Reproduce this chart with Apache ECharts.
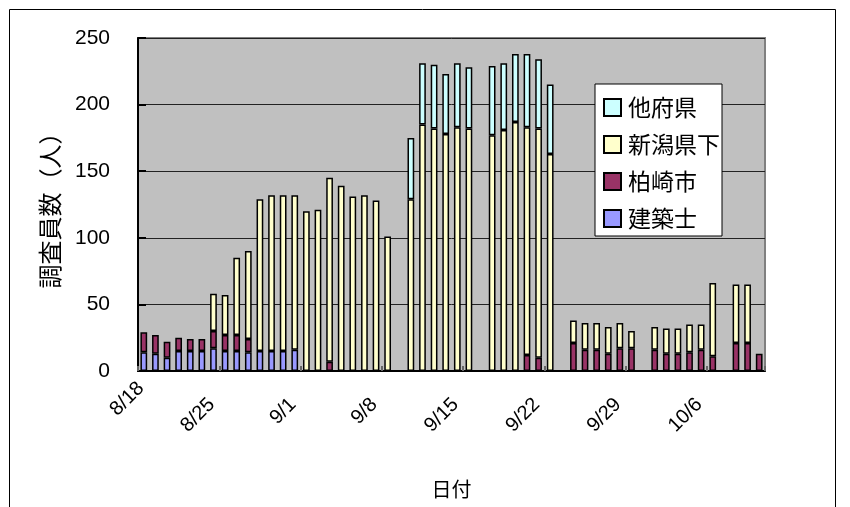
<!DOCTYPE html>
<html>
<head>
<meta charset="utf-8">
<script src="https://cdn.jsdelivr.net/npm/echarts@6/dist/echarts.min.js"></script>
<style>
  html, body { margin: 0; padding: 0; background: #fff; }
  #chart { width: 850px; height: 507px; }
</style>
</head>
<body>
<div id="chart"></div>
<script>
// Daily survey staff counts, 8/18 – 10/10
const dates = [
  '8/18','8/19','8/20','8/21','8/22','8/23','8/24',
  '8/25','8/26','8/27','8/28','8/29','8/30','8/31',
  '9/1','9/2','9/3','9/4','9/5','9/6','9/7',
  '9/8','9/9','9/10','9/11','9/12','9/13','9/14',
  '9/15','9/16','9/17','9/18','9/19','9/20','9/21',
  '9/22','9/23','9/24','9/25','9/26','9/27','9/28',
  '9/29','9/30','10/1','10/2','10/3','10/4','10/5',
  '10/6','10/7','10/8','10/9','10/10'
];

// 建築士
const architects = [
  14,13,10,15,15,15,17, 15,15,14,15,15,15,16,
  0,0,0,0,0,0,0, 0,0,0,0,0,0,0,
  0,0,0,0,0,0,0, 0,0,0,0,0,0,0,
  0,0,0,0,0,0,0, 0,0,0,0,0
];
// 柏崎市
const kashiwazaki = [
  15,14,12,10,9,9,13, 12,12,10,0,0,0,0,
  0,0,7,0,0,0,0, 0,0,0,0,0,0,0,
  0,0,0,0,0,12,10, 0,0,21,16,16,13,17,
  17,0,16,13,13,14,16, 11,0,21,21,13
];
// 新潟県下
const niigata = [
  0,0,0,0,0,0,28, 30,58,66,114,117,117,116,
  120,121,138,139,131,132,128, 101,0,129,185,182,178,183,
  182,0,177,181,187,171,172, 163,0,17,20,20,20,19,
  13,0,17,19,19,21,19, 55,0,44,44,0
];
// 他府県
const otherPrefs = [
  0,0,0,0,0,0,0, 0,0,0,0,0,0,0,
  0,0,0,0,0,0,0, 0,0,46,46,48,45,48,
  46,0,52,50,51,55,52, 52,0,0,0,0,0,0,
  0,0,0,0,0,0,0, 0,0,0,0,0
];

const yTicks = [0, 50, 100, 150, 200, 250];

const FONT = "'Liberation Sans', 'Noto Sans CJK JP', sans-serif";
const CJK = "'Noto Sans CJK JP', sans-serif";

// zero segments are left empty so they draw no outline
const seg = arr => arr.map(v => (v === 0 ? '-' : v));

function barSeries(name, data, color) {
  return {
    name: name,
    type: 'bar',
    stack: 'total',
    barWidth: '58%',
    data: seg(data),
    itemStyle: { color: color, borderColor: '#000', borderWidth: 1.5 },
    emphasis: { disabled: true }
  };
}

const dateLabel = { fontFamily: FONT, fontSize: 20, color: '#000' };

const chart = echarts.init(document.getElementById('chart'), null, { renderer: 'canvas' });

chart.setOption({
  animation: false,
  backgroundColor: '#fff',
  textStyle: { fontFamily: FONT },
  graphic: [{
    type: 'rect',
    shape: { x: 9.5, y: 9.5, width: 826, height: 520 },
    style: { fill: 'none', stroke: '#000', lineWidth: 1 },
    silent: true
  }],
  grid: {
    left: 138, right: 85, top: 38, bottom: 136,
    outerBoundsMode: 'none',
    containLabel: false,
    show: true, backgroundColor: '#C0C0C0', borderColor: '#808080', borderWidth: 2
  },
  legend: {
    orient: 'vertical',
    left: 595, top: 84,
    data: ['他府県', '新潟県下', '柏崎市', '建築士'],
    backgroundColor: '#fff',
    borderColor: '#000', borderWidth: 1,
    padding: [12, 2, 6, 8],
    itemWidth: 17, itemHeight: 17, itemGap: 14,
    icon: 'rect',
    textStyle: { fontFamily: CJK, fontSize: 23, color: '#000', padding: [0, 0, 0, 2] }
  },
  xAxis: {
    type: 'category',
    data: dates,
    boundaryGap: true,
    name: '日付',
    nameLocation: 'middle',
    nameGap: 108,
    nameTextStyle: { fontFamily: CJK, fontSize: 20, color: '#000' },
    axisLine: { lineStyle: { color: '#000', width: 2 } },
    axisTick: { show: true, inside: true, length: 5, interval: 6, lineStyle: { color: '#666', width: 2 } },
    axisLabel: {
      interval: 6, rotate: 45, fontSize: 20, color: '#000', margin: 17,
      formatter: (value, index) => (index === 0 ? '{first|' + value + '}' : '{date|' + value + '}'),
      rich: {
        date: Object.assign({ padding: [0, 19, 0, 0] }, dateLabel),
        first: Object.assign({ padding: [0, 0, 8, 0] }, dateLabel)
      }
    },
    splitLine: { show: false }
  },
  yAxis: {
    type: 'value',
    min: yTicks[0], max: yTicks[yTicks.length - 1], interval: 50,
    name: '調査員数（人）',
    nameLocation: 'middle',
    nameGap: 76,
    nameRotate: 90,
    nameTextStyle: { fontFamily: CJK, fontSize: 24, color: '#000' },
    axisLine: { show: true, lineStyle: { color: '#000', width: 2 } },
    axisTick: { show: true, inside: true, length: 8, lineStyle: { color: '#000', width: 2 } },
    axisLabel: { fontSize: 21, color: '#000', margin: 28, padding: [6, 0, 0, 0] },
    splitLine: { show: true, lineStyle: { color: '#222', width: 1 } }
  },
  series: [
    barSeries('建築士', architects, '#9999FF'),
    barSeries('柏崎市', kashiwazaki, '#993366'),
    barSeries('新潟県下', niigata, '#FFFFCC'),
    barSeries('他府県', otherPrefs, '#CCFFFF')
  ]
});
</script>
</body>
</html>
